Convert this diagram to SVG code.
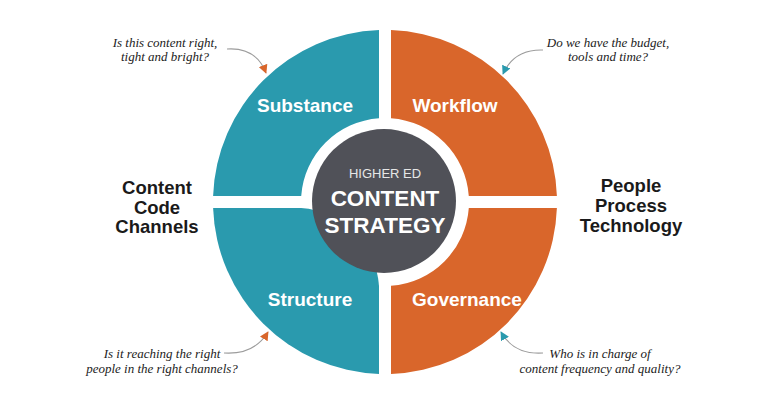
<svg xmlns="http://www.w3.org/2000/svg" width="768" height="402" viewBox="0 0 768 402">
<defs>
<style>
.teal{fill:#2a9aae}
.orange{fill:#d9662b}
.q{font-family:"Liberation Sans",Arial,sans-serif;font-weight:bold;font-size:19px;fill:#ffffff;text-anchor:middle}
.side{font-family:"Liberation Sans",Arial,sans-serif;font-weight:bold;font-size:18.5px;fill:#1a1a1a;text-anchor:middle}
.ask{font-family:"Liberation Serif","Times New Roman",serif;font-style:italic;font-size:13px;fill:#222222;text-anchor:middle}
.conn{fill:none;stroke:#9c9c9c;stroke-width:1.1}
</style>
<marker id="ahO" viewBox="0 0 10 10" refX="9" refY="5" markerWidth="9" markerHeight="9" markerUnits="userSpaceOnUse" orient="auto"><path d="M0,0 L10,5 L0,10 z" fill="#d9662b"/></marker>
<marker id="ahT" viewBox="0 0 10 10" refX="9" refY="5" markerWidth="9" markerHeight="9" markerUnits="userSpaceOnUse" orient="auto"><path d="M0,0 L10,5 L0,10 z" fill="#2a9aae"/></marker>
</defs>
<rect width="768" height="402" fill="#ffffff"/>
<g id="substance">
<path class="teal" d="M379,30.1 A172,172 0 0 0 213.1,196 L301.2,196 A84,84 0 0 1 379,118.2 Z"/>
<text class="q" x="305" y="112">Substance</text>
</g>
<g id="workflow">
<path class="orange" d="M391,30.1 A172,172 0 0 1 556.9,196 L468.8,196 A84,84 0 0 0 391,118.2 Z"/>
<text class="q" x="455" y="112">Workflow</text>
</g>
<g id="governance">
<path class="orange" d="M556.9,208 A172,172 0 0 1 391,373.9 L391,285.8 A84,84 0 0 0 468.8,208 Z"/>
<text class="q" x="467" y="306">Governance</text>
</g>
<g id="structure">
<path class="teal" d="M379,373.9 A172,172 0 0 1 213.1,208 L301.2,208 A84,84 0 0 1 379,285.8 Z"/>
<text class="q" x="310" y="306">Structure</text>
</g>
<g id="center">
<circle cx="384" cy="201" r="72" fill="#505158"/>
<text x="385" y="178" font-family="'Liberation Sans',Arial,sans-serif" font-size="13" fill="#e6e6e6" text-anchor="middle">HIGHER ED</text>
<text x="385" y="206" font-family="'Liberation Sans',Arial,sans-serif" font-weight="bold" font-size="22.5" fill="#ffffff" text-anchor="middle">CONTENT</text>
<text x="385" y="233" font-family="'Liberation Sans',Arial,sans-serif" font-weight="bold" font-size="22.5" fill="#ffffff" text-anchor="middle">STRATEGY</text>
</g>
<g id="left-label">
<text class="side" x="157" y="194">Content</text>
<text class="side" x="157" y="214">Code</text>
<text class="side" x="157" y="233">Channels</text>
</g>
<g id="right-label">
<text class="side" x="631" y="192">People</text>
<text class="side" x="631" y="212">Process</text>
<text class="side" x="631" y="232">Technology</text>
</g>
<g id="q-substance">
<text class="ask" x="165" y="47">Is this content right,</text>
<text class="ask" x="165" y="61">tight and bright?</text>
</g>
<g id="q-workflow">
<text class="ask" x="608" y="47">Do we have the budget,</text>
<text class="ask" x="608" y="61">tools and time?</text>
</g>
<g id="q-structure">
<text class="ask" x="162" y="358">Is it reaching the right</text>
<text class="ask" x="162" y="373">people in the right channels?</text>
</g>
<g id="q-governance">
<text class="ask" x="600" y="358">Who is in charge of</text>
<text class="ask" x="600" y="373">content frequency and quality?</text>
</g>
<g id="connectors">
<path class="conn" d="M227,49 Q256,47 266,73" marker-end="url(#ahO)"/>
<path class="conn" d="M543,50 Q514,49 503,74" marker-end="url(#ahT)"/>
<path class="conn" d="M224,353 Q254,355 268,332" marker-end="url(#ahO)"/>
<path class="conn" d="M543,353 Q514,355 501,332" marker-end="url(#ahT)"/>
</g>
</svg>
